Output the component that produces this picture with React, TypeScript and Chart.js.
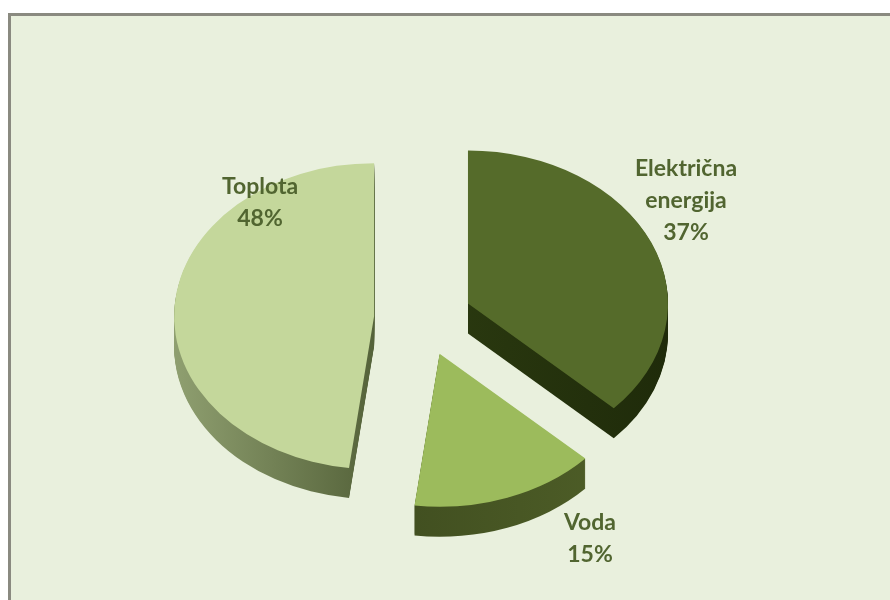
import React, { useEffect, useRef } from "react";
import { Chart, registerables } from "chart.js";

Chart.register(...registerables);

const categories = ["Električna energija", "Voda", "Toplota"];
const shares = [37, 15, 48];
const topColors = ["#556b2a", "#9cbb5c", "#c4d79b"];
const labelLines = [["Električna", "energija", "37%"], ["Voda", "15%"], ["Toplota", "48%"]];
const labelAnchors = [[686, 201], [590, 539], [260, 203]];

const TILT = 0.765;
const DEPTH = 30;
const EXPLODE = 49;
const LINE_PITCH = 32;

// Side wall colours of each slice, left to right.
const wallStops = [
  ["#2b3a10", "#1f2b0a"],
  ["#414f20", "#4f5f28"],
  ["#8f9f70", "#55633a"],
];

function sliceShift(arc: any) {
  const mid = (arc.startAngle + arc.endAngle) / 2;
  return { dx: Math.cos(mid) * EXPLODE, dy: Math.sin(mid) * EXPLODE };
}

function wallPath(ctx: CanvasRenderingContext2D, arc: any, drop: number) {
  const { dx, dy } = sliceShift(arc);
  const x = arc.x + dx;
  const y = arc.y + dy * TILT + drop;
  const r = arc.outerRadius;
  ctx.beginPath();
  ctx.moveTo(x, y);
  ctx.ellipse(x, y, r, r * TILT, 0, arc.startAngle, arc.endAngle);
  ctx.closePath();
}

const tiltedPie = {
  id: "tiltedPie",
  // The slices are painted here, pulled apart and flattened, above their extruded walls.
  beforeDatasetDraw(chart: any) {
    const { ctx } = chart;
    const arcs = chart.getDatasetMeta(0).data;
    arcs.forEach((arc: any, i: number) => {
      const { dx } = sliceShift(arc);
      const cx = arc.x + dx;
      const r = arc.outerRadius;
      const g = ctx.createLinearGradient(i === 2 ? cx - r : cx - r * 0.2, 0, i === 2 ? cx : cx + r, 0);
      g.addColorStop(0, wallStops[i][0]);
      g.addColorStop(1, wallStops[i][1]);
      ctx.fillStyle = g;
      for (let d = DEPTH; d >= 1; d--) {
        wallPath(ctx, arc, d);
        ctx.fill();
      }
    });
    arcs.forEach((arc: any) => {
      const { dx, dy } = sliceShift(arc);
      ctx.save();
      ctx.translate(dx, arc.y + dy * TILT);
      ctx.scale(1, TILT);
      ctx.translate(0, -arc.y);
      arc.draw(ctx);
      ctx.restore();
    });
    return false;
  },
  afterDatasetsDraw(chart: any) {
    const { ctx } = chart;
    ctx.save();
    ctx.fillStyle = "#516530";
    ctx.font = "bold 23px Lato, Carlito, sans-serif";
    ctx.textAlign = "center";
    ctx.textBaseline = "middle";
    labelLines.forEach((lines, i) => {
      const [lx, ly] = labelAnchors[i];
      lines.forEach((t, j) => {
        ctx.fillText(t, lx, ly + (j - (lines.length - 1) / 2) * LINE_PITCH);
      });
    });
    ctx.restore();
  },
};

export default function App() {
  const ref = useRef<HTMLCanvasElement>(null);
  useEffect(() => {
    document.body.style.margin = "0";
    document.body.style.background = "#ffffff";
    const chart = new Chart(ref.current!, {
      type: "pie",
      data: {
        labels: categories,
        datasets: [{ data: shares, backgroundColor: topColors, borderWidth: 0 }],
      },
      options: {
        responsive: false,
        animation: false,
        radius: 200,
        layout: { padding: { left: 0, right: 44, top: 37, bottom: 0 } },
        plugins: { legend: { display: false }, tooltip: { enabled: false } },
      } as any,
      plugins: [tiltedPie],
    });
    return () => chart.destroy();
  }, []);
  return (
    <div style={{ position: "relative", width: 890, height: 600, overflow: "hidden" }}>
      <div
        style={{
          position: "absolute",
          left: 8,
          top: 13,
          width: 900,
          height: 620,
          background: "#e9f0dd",
          border: "3px solid #8a8a80",
          boxSizing: "border-box",
        }}
      />
      <canvas ref={ref} width={890} height={600} style={{ position: "absolute", left: 0, top: 0 }} />
    </div>
  );
}
